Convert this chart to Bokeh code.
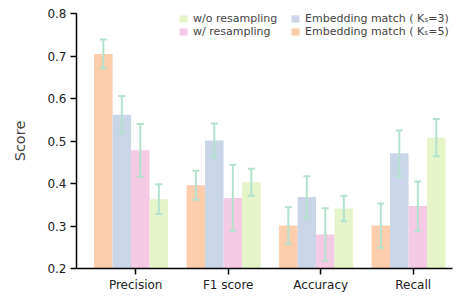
from bokeh.plotting import figure
from bokeh.models import ColumnDataSource, Whisker, Legend, LegendItem, FixedTicker, Range1d
from bokeh.embed import file_html
from bokeh.resources import INLINE

categories = ["Precision", "F1 score", "Accuracy", "Recall"]
series_names = ["Embedding match ( Kₛ=5)", "Embedding match ( Kₛ=3)", "w/ resampling", "w/o resampling"]
emb5 = [0.705, 0.396, 0.301, 0.301]
emb5_err = [0.034, 0.034, 0.043, 0.052]
emb3 = [0.562, 0.501, 0.368, 0.471]
emb3_err = [0.044, 0.040, 0.049, 0.054]
w_res = [0.478, 0.366, 0.280, 0.347]
w_res_err = [0.062, 0.078, 0.062, 0.058]
wo_res = [0.363, 0.403, 0.341, 0.508]
wo_res_err = [0.035, 0.032, 0.030, 0.044]
y_ticks = [0.2, 0.3, 0.4, 0.5, 0.6, 0.7, 0.8]

colors = ["#fdcdac", "#cbd5e8", "#f4cae4", "#e6f5c9"]
err_color = "#b3e2cd"
offsets = [-0.35, -0.15, 0.05, 0.25]
width = 0.2
FONT = "DejaVu Sans"

p = figure(width=456, height=296, output_backend="svg", toolbar_location=None,
           x_range=Range1d(-0.64, 3.425), y_range=Range1d(0.2, 0.8),
           min_border_left=76, min_border_right=4, min_border_top=13, min_border_bottom=28)
p.outline_line_color = None
p.xgrid.grid_line_color = None
p.ygrid.grid_line_color = None

renderers = []
all_vals = [emb5, emb3, w_res, wo_res]
all_errs = [emb5_err, emb3_err, w_res_err, wo_res_err]
for j, (vals, errs) in enumerate(zip(all_vals, all_errs)):
    xs = [i + offsets[j] for i in range(len(categories))]
    src = ColumnDataSource(dict(x=xs, top=vals,
                                upper=[v + e for v, e in zip(vals, errs)],
                                lower=[v - e for v, e in zip(vals, errs)]))
    r = p.vbar(x="x", top="top", bottom=0.2, width=width, source=src,
               fill_color=colors[j], line_color=None)
    renderers.append(r)
    w = Whisker(base="x", upper="upper", lower="lower", source=src,
                line_color=err_color, line_width=2, level="overlay")
    w.upper_head.line_color = err_color
    w.lower_head.line_color = err_color
    w.upper_head.line_width = 2
    w.lower_head.line_width = 2
    w.upper_head.size = 7
    w.lower_head.size = 7
    p.add_layout(w)

p.xaxis.ticker = FixedTicker(ticks=list(range(len(categories))))
p.xaxis.major_label_overrides = {i: c for i, c in enumerate(categories)}
p.yaxis.ticker = FixedTicker(ticks=y_ticks)
p.yaxis.axis_label = "Score"

for ax in (p.xaxis[0], p.yaxis[0]):
    ax.axis_line_width = 1.5
    ax.axis_line_color = "black"
    ax.major_tick_line_width = 1.5
    ax.major_tick_line_color = "black"
    ax.major_tick_out = 6
    ax.major_tick_in = 0
    ax.minor_tick_line_color = None
    ax.major_label_text_font = FONT
    ax.major_label_text_color = "#222222"
    ax.major_label_text_font_size = "12px"
p.xaxis.major_label_standoff = 3
p.yaxis.major_label_standoff = 4
p.yaxis.axis_label_text_font = FONT
p.yaxis.axis_label_text_font_style = "normal"
p.yaxis.axis_label_text_font_size = "14.5px"
p.yaxis.axis_label_standoff = 16

leg1 = Legend(items=[LegendItem(label=series_names[3], renderers=[renderers[3]]),
                     LegendItem(label=series_names[2], renderers=[renderers[2]])],
              location=(102, 230))
leg2 = Legend(items=[LegendItem(label=series_names[1], renderers=[renderers[1]]),
                     LegendItem(label=series_names[0], renderers=[renderers[0]])],
              location=(214, 230))
for lg in (leg1, leg2):
    lg.glyph_width = 10
    lg.glyph_height = 9
    lg.label_text_font = FONT
    lg.label_text_font_size = "11px"
    lg.label_standoff = 5
    lg.spacing = 0
    lg.padding = 0
    lg.margin = 0
    lg.label_height = 13
    lg.border_line_alpha = 0
    lg.background_fill_alpha = 0
    p.add_layout(lg, "center")

open("out.html", "w").write(file_html(p, INLINE))
